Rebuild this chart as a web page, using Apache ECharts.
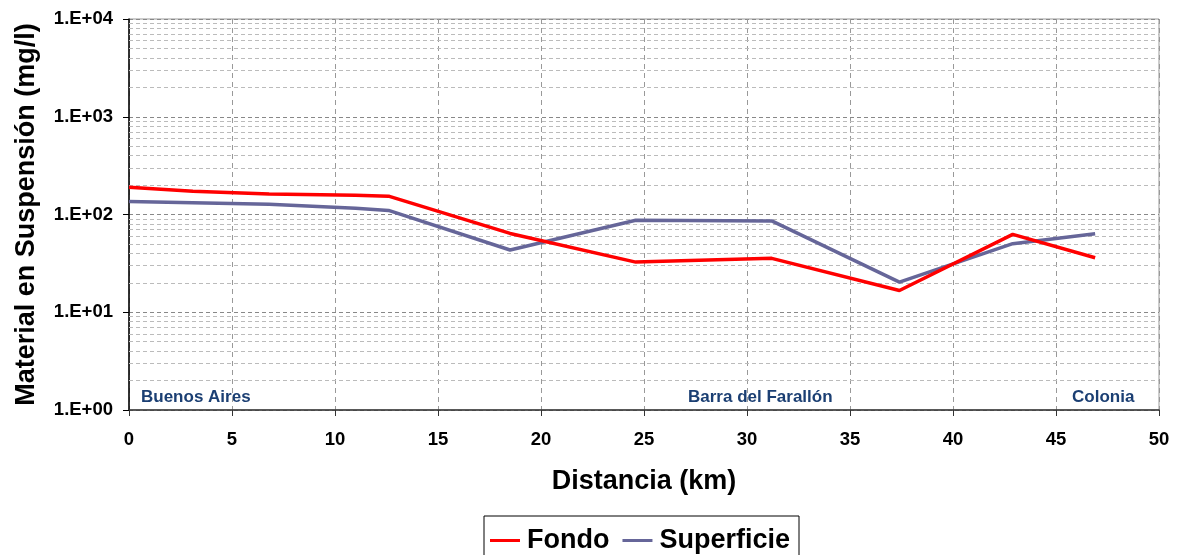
<!DOCTYPE html>
<html>
<head>
<meta charset="utf-8">
<script src="https://cdn.jsdelivr.net/npm/echarts@6/dist/echarts.min.js"></script>
<style>html,body{margin:0;padding:0;background:#fff;}#c{width:1180px;height:555px;}</style>
</head>
<body>
<div id="c"></div>
<script>
const distances = [0, 3.1, 6.8, 11.0, 12.6, 18.5, 24.6, 31.2, 37.4, 42.9, 46.9];
const fondo = [190, 173, 162, 157, 154, 64, 32.6, 35.6, 16.7, 62.7, 36.1];
const superficie = [135.6, 132, 127, 116, 110, 43.3, 87.3, 86, 20.3, 50.3, 63.7];
const seriesNames = ['Fondo', 'Superficie'];
const yTickLabels = ['1.E+00', '1.E+01', '1.E+02', '1.E+03', '1.E+04'];
const placeNames = ['Buenos Aires', 'Barra del Farallón', 'Colonia'];

const FONT = '"Liberation Sans", Arial, sans-serif';
const minorGrid = [];
for (let d = 1; d < 10000; d *= 10) for (let k = 2; k <= 9; k++) minorGrid.push({ yAxis: k * d });

const chart = echarts.init(document.getElementById('c'), null, { renderer: 'canvas' });
chart.setOption({
  animation: false,
  backgroundColor: '#fff',
  grid: { left: 129, right: 21, top: 19, bottom: 145, show: true, borderColor: '#999', borderWidth: 1 },
  legend: {
    data: seriesNames,
    left: 484, top: 516,
    icon: 'rect', itemWidth: 30, itemHeight: 3, itemGap: 13,
    borderColor: '#000', borderWidth: 1, padding: [11, 9, 6, 6],
    textStyle: { fontFamily: FONT, fontWeight: 'bold', fontSize: 27, color: '#000', padding: [0, 0, 0, 2] }
  },
  xAxis: {
    type: 'value', min: 0, max: 50, interval: 5,
    name: 'Distancia (km)', nameLocation: 'middle', nameGap: 58,
    nameTextStyle: { fontFamily: FONT, fontWeight: 'bold', fontSize: 27, color: '#000' },
    axisLine: { lineStyle: { color: '#333', width: 1.5 } },
    axisTick: { show: true, inside: false, length: 6, lineStyle: { color: '#333' } },
    axisLabel: { fontFamily: FONT, fontWeight: 'bold', fontSize: 18.5, color: '#000', margin: 20 },
    splitLine: { show: true, lineStyle: { color: '#999', type: [5, 4], width: 1 } }
  },
  yAxis: {
    type: 'log', logBase: 10, min: 1, max: 10000,
    name: 'Material en Suspensión (mg/l)', nameLocation: 'middle', nameGap: 89,
    nameTextStyle: { fontFamily: FONT, fontWeight: 'bold', fontSize: 27, color: '#000' },
    axisLine: { show: true, lineStyle: { color: '#000', width: 1.5 } },
    axisTick: { show: true, inside: false, length: 6, lineStyle: { color: '#000' } },
    axisLabel: {
      fontFamily: FONT, fontWeight: 'bold', fontSize: 18.5, color: '#000', margin: 16,
      formatter: v => yTickLabels[Math.round(Math.log10(v))]
    },
    splitLine: { show: true, lineStyle: { color: '#888', type: [4, 3], width: 1 } }
  },
  series: [
    {
      name: seriesNames[0], type: 'line', symbol: 'none', z: 5,
      data: distances.map((d, i) => [d, fondo[i]]),
      lineStyle: { color: '#ff0000', width: 3.5 }, itemStyle: { color: '#ff0000' },
      markLine: {
        silent: true, symbol: ['none', 'none'], label: { show: false }, z: 1,
        lineStyle: { color: '#bbb', type: [4, 3], width: 1 },
        data: minorGrid
      }
    },
    {
      name: seriesNames[1], type: 'line', symbol: 'none', z: 4,
      data: distances.map((d, i) => [d, superficie[i]]),
      lineStyle: { color: '#666699', width: 3.5 }, itemStyle: { color: '#666699' }
    }
  ],
  graphic: [
    { type: 'text', left: 141, top: 389, style: { text: placeNames[0], fontFamily: FONT, fontWeight: 'bold', fontSize: 17, fill: '#1B3F73' } },
    { type: 'text', left: 688, top: 389, style: { text: placeNames[1], fontFamily: FONT, fontWeight: 'bold', fontSize: 17, fill: '#1B3F73' } },
    { type: 'text', left: 1072, top: 389, style: { text: placeNames[2], fontFamily: FONT, fontWeight: 'bold', fontSize: 17, fill: '#1B3F73' } }
  ]
});
</script>
</body>
</html>
